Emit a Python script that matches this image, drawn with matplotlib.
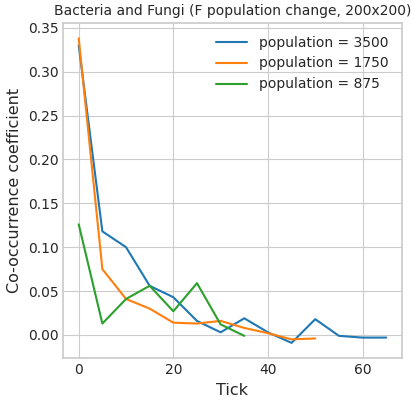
import numpy as np
import matplotlib
matplotlib.use("Agg")
import matplotlib.pyplot as plt
from matplotlib.ticker import MultipleLocator

plt.style.use("seaborn-v0_8-whitegrid")
plt.rcParams["font.family"] = ["DejaVu Sans"]
plt.rcParams["text.color"] = ".15"
plt.rcParams["axes.labelcolor"] = ".15"
plt.rcParams["xtick.color"] = ".15"
plt.rcParams["ytick.color"] = ".15"
plt.rcParams["axes.edgecolor"] = ".8"
plt.rcParams["axes.linewidth"] = 1.25

ticks_3500 = [0, 5, 10, 15, 20, 25, 30, 35, 40, 45, 50, 55, 60, 65]
coef_3500 = [0.330, 0.118, 0.100, 0.056, 0.043, 0.016, 0.003, 0.019, 0.003, -0.009, 0.018, -0.001, -0.003, -0.003]

ticks_1750 = [0, 5, 10, 15, 20, 25, 30, 35, 40, 45, 50]
coef_1750 = [0.338, 0.075, 0.041, 0.030, 0.014, 0.013, 0.016, 0.008, 0.002, -0.005, -0.004]

ticks_875 = [0, 5, 10, 15, 20, 25, 30, 35]
coef_875 = [0.126, 0.013, 0.041, 0.056, 0.027, 0.059, 0.012, -0.001]

fig = plt.figure(figsize=(4.14, 3.97), dpi=100)
ax = fig.add_axes([0.153, 0.098, 0.817, 0.844])

ax.plot(ticks_3500, coef_3500, label="population = 3500")
ax.plot(ticks_1750, coef_1750, label="population = 1750")
ax.plot(ticks_875, coef_875, label="population = 875")

ax.xaxis.set_major_locator(MultipleLocator(20))
ax.set_title("Bacteria and Fungi (F population change, 200x200)", fontsize=10)
ax.set_xlabel("Tick", fontsize=11.5)
ax.set_ylabel("Co-occurrence coefficient", fontsize=11.5)
ax.tick_params(labelsize=10)
ax.legend(fontsize=10, loc="upper right", handlelength=2.2, handletextpad=0.9)

plt.savefig("out.png", dpi=100)
